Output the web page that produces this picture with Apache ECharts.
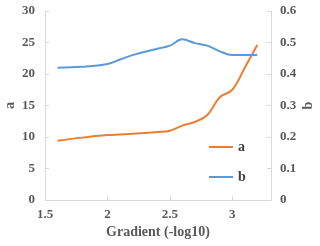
<!DOCTYPE html>
<html><head><meta charset="utf-8">
<script src="https://cdn.jsdelivr.net/npm/echarts@6/dist/echarts.min.js"></script>
<style>html,body{margin:0;padding:0;background:#fff}#c{width:320px;height:246px}</style>
</head><body><div id="c"></div>
<script>
var gradient = [1.6, 1.8, 2.0, 2.1, 2.2, 2.4, 2.5, 2.6, 2.7, 2.8, 2.9, 3.0, 3.1, 3.2];
var seriesA = [9.4, 9.9, 10.3, 10.4, 10.5, 10.8, 11.0, 11.8, 12.4, 13.5, 16.3, 17.5, 21.0, 24.6];
var seriesB = [0.42, 0.423, 0.432, 0.446, 0.46, 0.48, 0.49, 0.51, 0.498, 0.49, 0.472, 0.46, 0.46, 0.46];
var xTicks = [1.5, 2, 2.5, 3];

var font = "'Liberation Serif', 'Times New Roman', serif";
var txt = {color: '#595959', fontFamily: font, fontWeight: 'bold', fontSize: 13};
function pairs(xs, ys){ return xs.map(function(x,i){ return [x, ys[i]]; }); }
var axisLine = {show: true, lineStyle: {color: '#d9d9d9', width: 1}};
var axisTick = {show: true, inside: true, length: 4, lineStyle: {color: '#d9d9d9'}};

var chart = echarts.init(document.getElementById('c'));
chart.setOption({
  animation: false,
  grid: {left: 45, right: 49, top: 11, bottom: 46, containLabel: false, outerBoundsMode: 'none'},
  legend: {
    orient: 'vertical', left: 204, top: 135, itemGap: 16,
    itemWidth: 24, itemHeight: 10,
    textStyle: Object.assign({}, txt, {fontSize: 14, color: '#404040'}),
    data: [{name: 'a', icon: 'path://M0,4 L24,4 L24,6 L0,6 Z'}, {name: 'b', icon: 'path://M0,4 L24,4 L24,6 L0,6 Z'}]
  },
  xAxis: {
    type: 'value', min: 1.5, max: 3.31,
    name: 'Gradient (-log10)', nameLocation: 'middle', nameGap: 25, nameMoveOverlap: false,
    nameTextStyle: Object.assign({}, txt, {fontSize: 14}),
    axisLine: axisLine,
    axisTick: Object.assign({}, axisTick, {customValues: xTicks}),
    axisLabel: Object.assign({}, txt, {customValues: xTicks, margin: 8}),
    splitLine: {show: false}
  },
  yAxis: [{
    type: 'value', min: 0, max: 30, interval: 5,
    name: 'a', nameLocation: 'middle', nameGap: 28, nameRotate: 90, nameMoveOverlap: false,
    nameTextStyle: Object.assign({}, txt, {fontSize: 14}),
    axisLine: axisLine, axisTick: axisTick,
    axisLabel: Object.assign({}, txt, {margin: 10}),
    splitLine: {show: false}
  }, {
    type: 'value', min: 0, max: 0.6, interval: 0.1, position: 'right',
    name: 'b', nameLocation: 'middle', nameGap: 30, nameRotate: 90, nameMoveOverlap: false,
    nameTextStyle: Object.assign({}, txt, {fontSize: 14}),
    axisLine: axisLine, axisTick: axisTick,
    axisLabel: Object.assign({}, txt, {margin: 9, formatter: function(v){ return v === 0 ? '0' : v.toFixed(1); }}),
    splitLine: {show: false}
  }],
  series: [{
    name: 'a', type: 'line', yAxisIndex: 0, data: pairs(gradient, seriesA),
    smooth: 0.4, showSymbol: false, lineStyle: {color: '#ED7D31', width: 2}, itemStyle: {color: '#ED7D31'}
  }, {
    name: 'b', type: 'line', yAxisIndex: 1, data: pairs(gradient, seriesB),
    smooth: 0.4, showSymbol: false, lineStyle: {color: '#5B9BD5', width: 2}, itemStyle: {color: '#5B9BD5'}
  }]
});
</script></body></html>
